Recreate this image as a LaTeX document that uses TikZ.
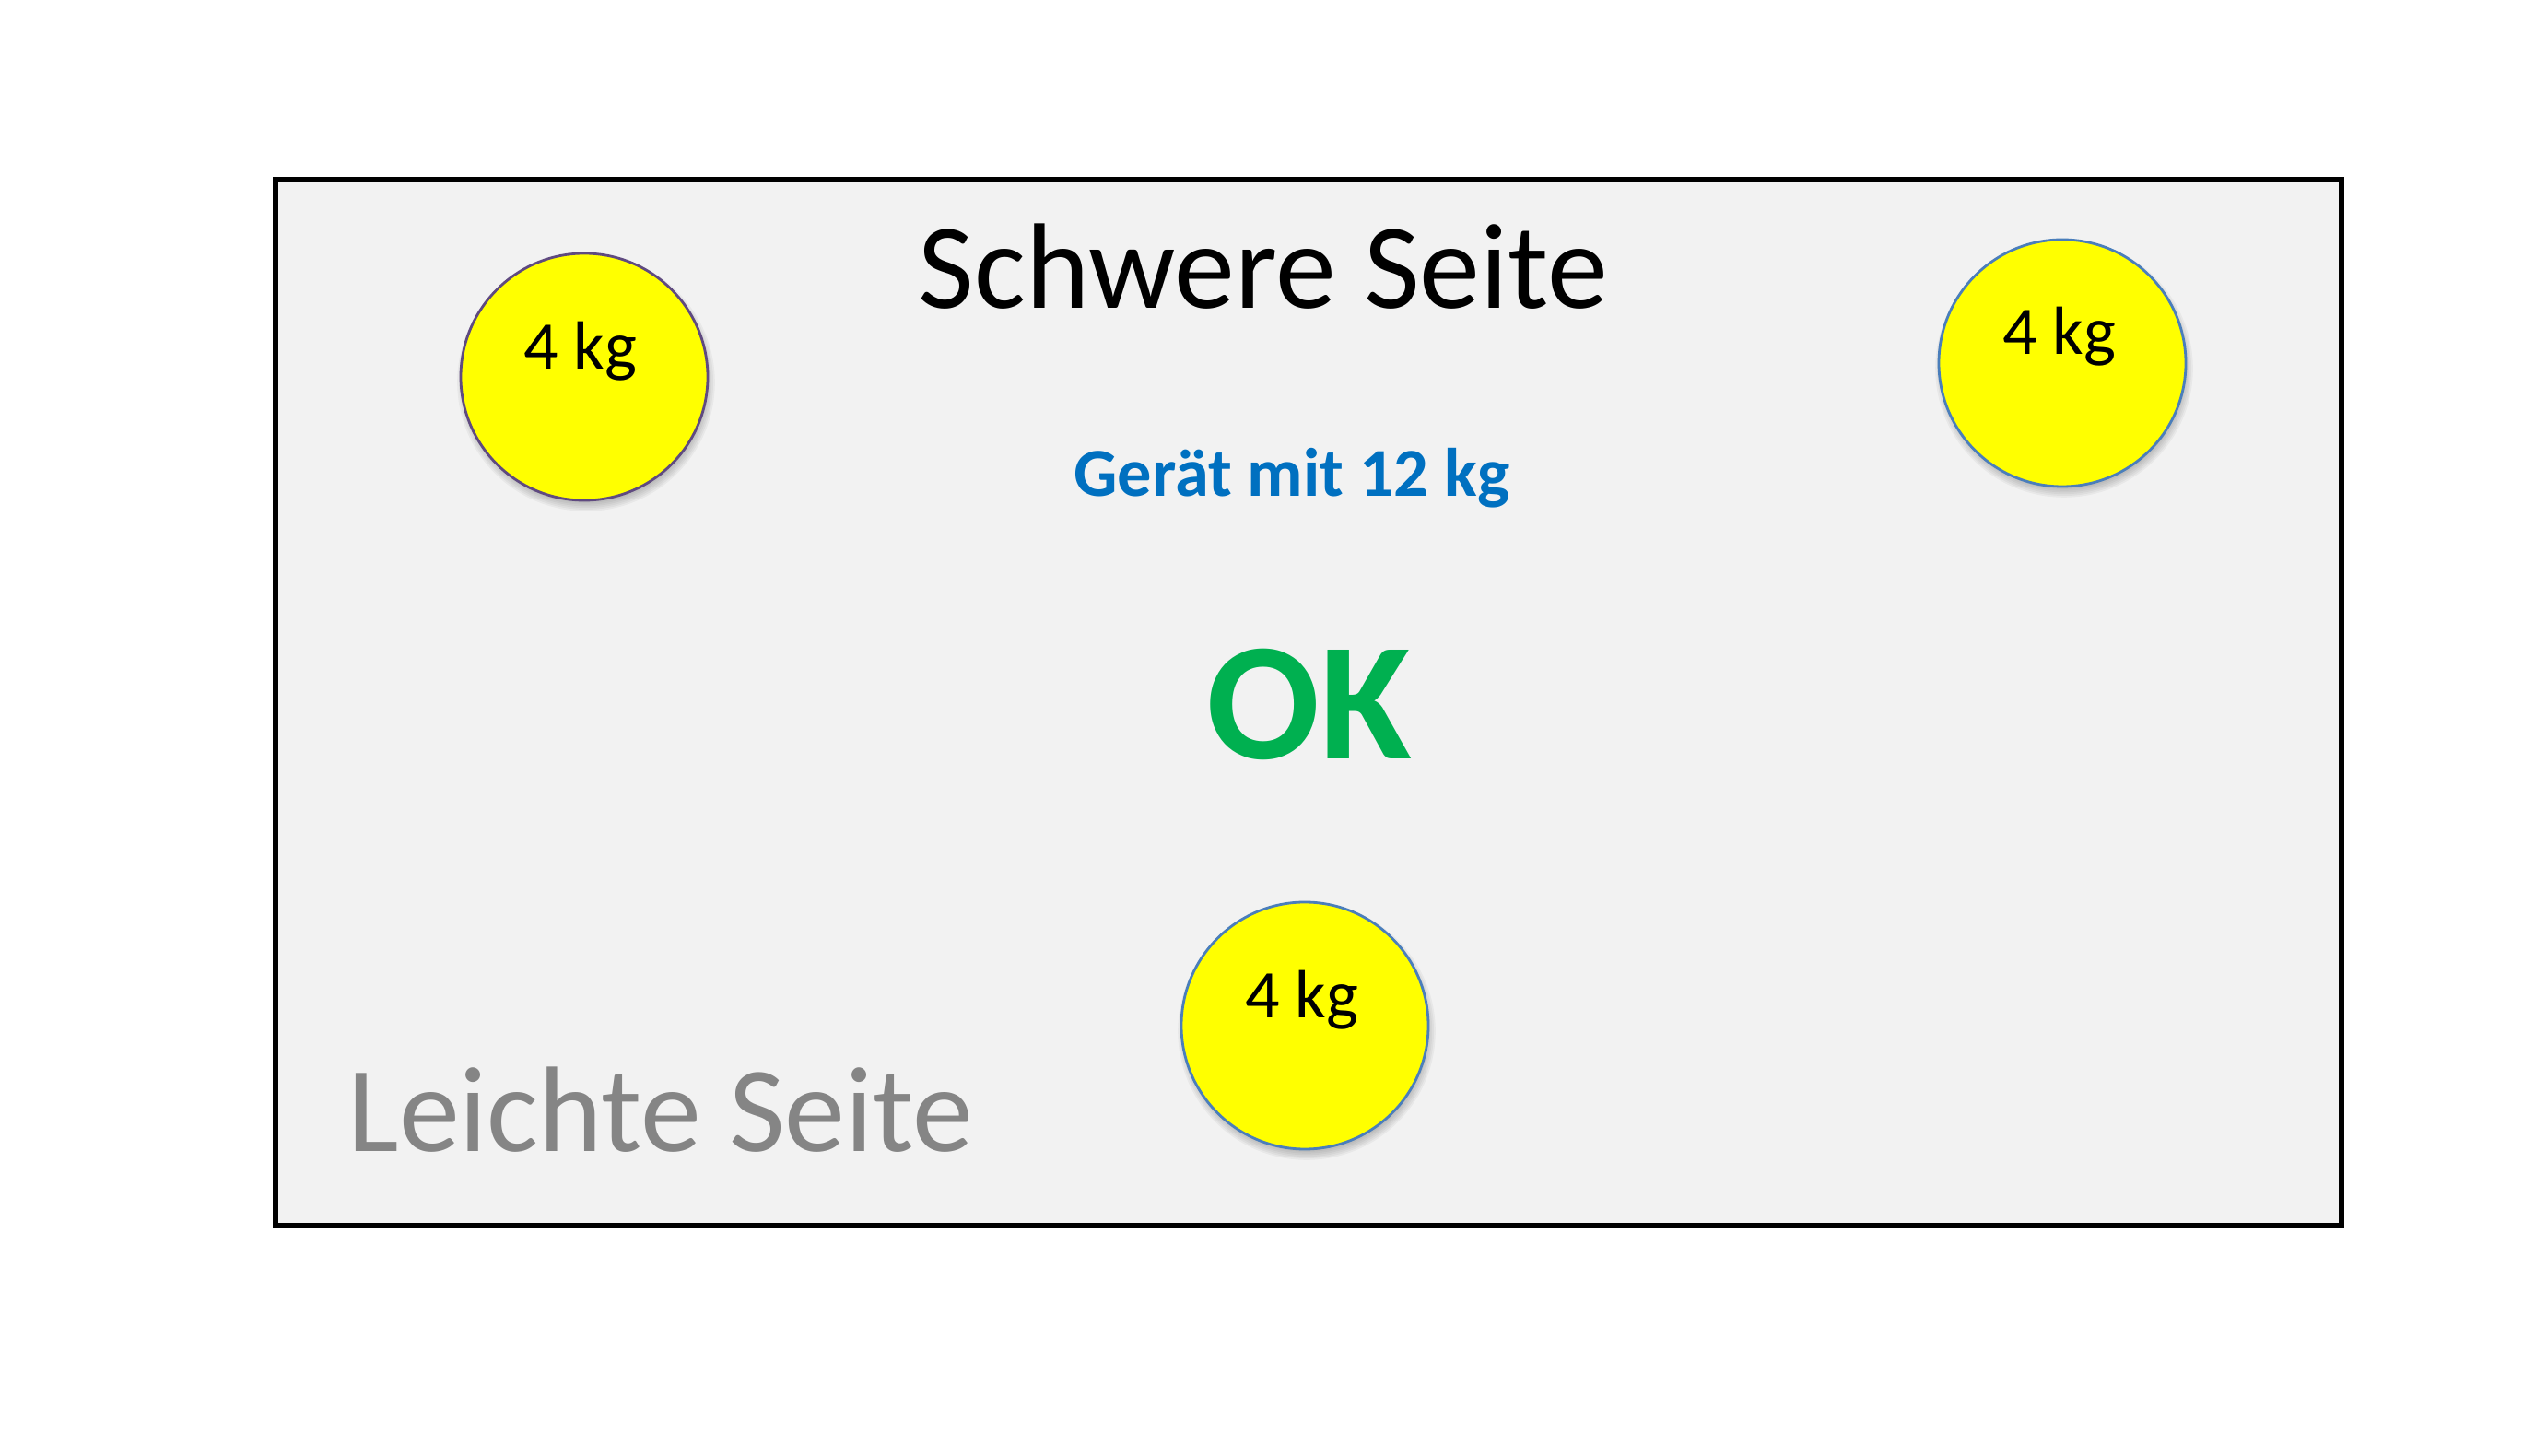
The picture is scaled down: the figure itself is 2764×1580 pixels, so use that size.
\documentclass[tikz,border=0pt]{standalone}
\usepackage{fontspec}
\setmainfont{Carlito}
\definecolor{panelgray}{HTML}{F2F2F2}
\definecolor{weightyellow}{HTML}{FFFF00}
\definecolor{rimpurple}{HTML}{5F4A80}
\definecolor{rimblue}{HTML}{4A7EBB}
\definecolor{infoblue}{HTML}{0070C0}
\definecolor{okgreen}{HTML}{00B050}
\definecolor{lightgray}{HTML}{858585}
\tikzset{
  panel/.style={draw=black, line width=1.5pt, fill=panelgray},
  weight/.style={circle, minimum size=67pt, inner sep=0pt, fill=weightyellow, line width=0.7pt},
  softshade/.style={fill=black, opacity=0.04},
  wtext/.style={anchor=base, font=\fontsize{18.5}{20}\selectfont, inner sep=0pt},
  bigtext/.style={anchor=base, font=\fontsize{33}{38}\selectfont, inner sep=0pt},
}
\begin{document}
\begin{tikzpicture}[x=0.25pt, y=-0.25pt]
\useasboundingbox[fill=white] (0,0) rectangle (2764,1580);
\draw[panel] (299,195) rectangle (2541,1330);
\node[bigtext] (heavy) at (1371,335) {Schwere Seite};
\node[bigtext, text=lightgray] (light) at (717,1250) {Leichte Seite};
\node[anchor=base, inner sep=0pt, text=infoblue, font=\bfseries\fontsize{18.6}{22}\selectfont] (device) at (1402,539) {Gerät mit 12 kg};
\node[anchor=base, inner sep=0pt, text=okgreen, font=\bfseries\fontsize{45.5}{50}\selectfont] (ok) at (1421,824) {OK};
\coordinate (c1) at (634,409);
\coordinate (c2) at (2238,394);
\coordinate (c3) at (1416,1113);
\foreach \c in {c1,c2,c3}{
  \foreach \i in {0,...,6}{
    \fill[softshade] ([shift={(2,6)}]\c) circle[radius=129+\i*1.8];
  }
}
\node[weight, draw=rimpurple] (w1) at (c1) {};
\node[weight, draw=rimblue] (w2) at (c2) {};
\node[weight, draw=rimblue] (w3) at (c3) {};
\node[wtext] (t1) at ([shift={(-4,-8)}]w1.center) {4 kg};
\node[wtext] (t2) at ([shift={(-3,-9)}]w2.center) {4 kg};
\node[wtext] (t3) at ([shift={(-3,-8)}]w3.center) {4 kg};
\end{tikzpicture}
\end{document}
